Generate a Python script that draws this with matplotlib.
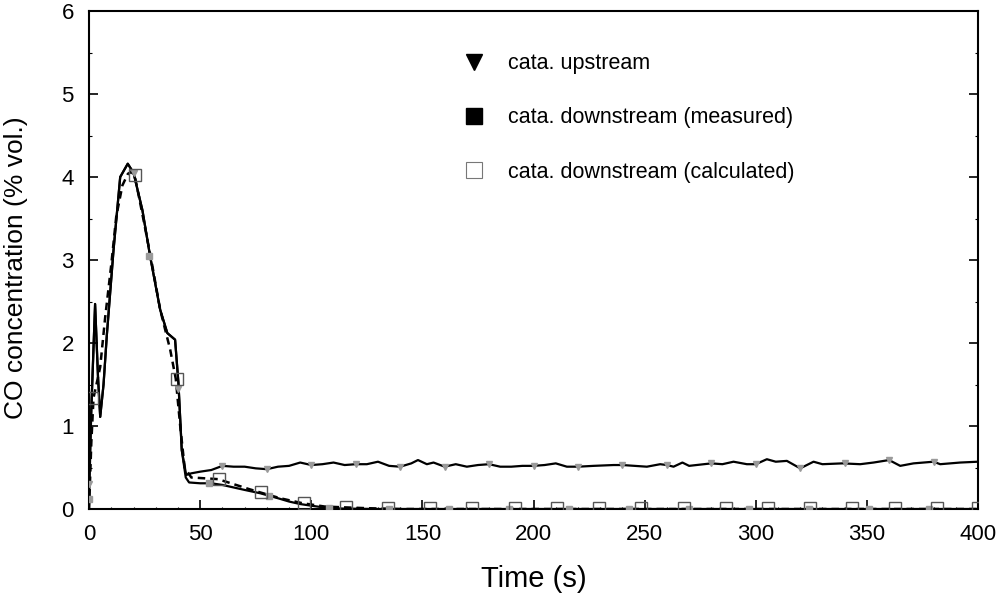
import matplotlib
matplotlib.use("Agg")
import matplotlib.pyplot as plt
from matplotlib.lines import Line2D
from matplotlib.ticker import MultipleLocator

plt.rcParams['font.family'] = ['Liberation Sans', 'DejaVu Sans']

# cata. upstream (solid line)
up_t = [0, 1, 2.7, 4, 5, 6.5, 8, 11, 14, 17.4, 20, 24, 27.5, 32, 35.2, 38.7, 40.2, 41.7, 43.7,
        46, 50, 55, 60, 65, 70, 75, 80, 85, 90, 95, 100, 105, 110, 115, 120, 125, 130, 135,
        140, 145, 148, 152, 155, 160, 165, 170, 175, 180, 185, 190, 195, 200, 205, 210, 215,
        220, 227, 236, 240, 251, 257, 260, 263, 267, 270, 280, 285, 290, 296, 300, 305, 309,
        314, 320, 326, 330, 339, 347, 353, 360, 365, 371, 380, 383, 392, 400]
up_y = [0.30, 1.2, 2.47, 1.6, 1.11, 1.5, 2.1, 3.12, 4.0, 4.16, 4.05, 3.6, 3.04, 2.4, 2.12, 2.04, 1.52, 0.71, 0.41,
        0.43, 0.45, 0.47, 0.52, 0.51, 0.51, 0.49, 0.48, 0.51, 0.52, 0.56, 0.53, 0.54, 0.56, 0.53, 0.54, 0.54, 0.57, 0.52,
        0.51, 0.55, 0.59, 0.54, 0.56, 0.51, 0.54, 0.51, 0.53, 0.54, 0.51, 0.51, 0.52, 0.52, 0.53, 0.55, 0.51,
        0.51, 0.52, 0.53, 0.53, 0.51, 0.54, 0.53, 0.51, 0.56, 0.52, 0.55, 0.54, 0.57, 0.54, 0.54, 0.60, 0.57,
        0.58, 0.49, 0.57, 0.54, 0.55, 0.54, 0.56, 0.59, 0.52, 0.55, 0.57, 0.54, 0.56, 0.57]
up_mark_t = [0, 20, 40, 60, 80, 100, 120, 140, 160, 180, 200, 220, 240, 260, 280, 300, 320, 340, 360, 380]
up_mark_y = [0.30, 4.05, 1.45, 0.52, 0.48, 0.53, 0.54, 0.51, 0.51, 0.54, 0.52, 0.51, 0.53, 0.53, 0.55, 0.54, 0.49, 0.55, 0.59, 0.57]

# cata. downstream (measured, solid line)
ms_t = [0, 1, 2.7, 4, 5, 6.5, 8, 11, 14, 17.4, 20, 24, 27.5, 32, 35.2, 38.7, 40.2, 41.7, 43.5,
        45, 50, 55, 60, 65, 70, 77, 85, 90, 95, 100, 108, 115, 130, 200, 300, 400]
ms_y = [0.12, 1.2, 2.47, 1.6, 1.11, 1.5, 2.1, 3.12, 4.0, 4.16, 4.05, 3.6, 3.04, 2.4, 2.12, 2.04, 1.52, 0.71, 0.38,
        0.32, 0.31, 0.31, 0.29, 0.26, 0.23, 0.19, 0.13, 0.09, 0.06, 0.04, 0.01, 0.005, 0.0, 0.0, 0.0, 0.0]
ms_mark_t = [0, 27, 54, 81, 108, 135, 162, 189, 216, 243, 270, 297, 324, 351, 378]
ms_mark_y = [0.12, 3.05, 0.31, 0.16, 0.01, 0, 0, 0, 0, 0, 0, 0, 0, 0, 0]

# cata. downstream (calculated, dashed line)
calc_t = [0, 1, 2, 5, 7.2, 10, 12.2, 15, 17.5, 19, 20.5, 24, 28, 32, 36.5, 39, 41, 43, 46,
          52, 58, 65, 72, 77, 86, 96, 106, 115, 125, 140, 200, 300, 400]
calc_y = [0.0, 0.8, 1.34, 1.71, 2.3, 2.95, 3.52, 3.9, 4.04, 4.06, 4.02, 3.55, 3.0, 2.4, 1.92, 1.57, 1.0, 0.5, 0.38,
          0.37, 0.36, 0.30, 0.24, 0.20, 0.13, 0.07, 0.03, 0.02, 0.01, 0.0, 0.0, 0.0, 0.0]
calc_mark_t = [1.5, 20.5, 39.5, 58.5, 77.5, 96.5, 115.5, 134.5, 153.5, 172.5, 191.5, 210.5,
               229.5, 248.5, 267.5, 286.5, 305.5, 324.5, 343.5, 362.5, 381.5, 400]
calc_mark_y = [1.34, 4.02, 1.57, 0.36, 0.20, 0.07, 0.02, 0.01, 0.01, 0.01, 0.01, 0.01,
               0.01, 0.01, 0.01, 0.01, 0.01, 0.01, 0.01, 0.01, 0.01, 0.01]

legend_labels = ["cata. upstream", "cata. downstream (measured)", "cata. downstream (calculated)"]

fig = plt.figure(figsize=(10.01, 5.95), dpi=100)
ax = fig.add_axes([0.089, 0.1445, 0.888, 0.837])

ax.plot(up_t, up_y, color='black', lw=1.6, zorder=3)
ax.plot(ms_t, ms_y, color='black', lw=1.6, zorder=3)
ax.plot(calc_t, calc_y, color='black', lw=1.8, ls=(0, (3, 2)), zorder=3)

ax.plot(up_mark_t, up_mark_y, ls='none', marker='v', ms=5, color='#9a9a9a', zorder=4)
ax.plot(ms_mark_t, ms_mark_y, ls='none', marker='s', ms=5, color='#9a9a9a', zorder=4)
ax.plot(calc_mark_t, calc_mark_y, ls='none', marker='s', ms=8, mfc='none', mec='#555555', mew=1, zorder=5)

ax.set_xlim(0, 400)
ax.set_ylim(0, 6)
ax.xaxis.set_major_locator(MultipleLocator(50))
ax.xaxis.set_minor_locator(MultipleLocator(10))
ax.yaxis.set_major_locator(MultipleLocator(1))
ax.yaxis.set_minor_locator(MultipleLocator(0.5))
ax.tick_params(axis='both', which='major', direction='in', length=6.5, width=1.2,
               labelsize=16, pad=11, right=True, top=False)
ax.tick_params(axis='y', which='minor', direction='in', length=2.5, width=0.8, right=True)
ax.tick_params(axis='x', which='minor', direction='in', length=1.5, width=0.8, top=False)
for sp in ax.spines.values():
    sp.set_linewidth(1.5)

ax.set_xlabel("Time (s)", fontsize=21)
ax.set_ylabel("CO concentration (% vol.)", fontsize=19)
ax.xaxis.set_label_coords(0.5, -0.112)
ax.yaxis.set_label_coords(-0.069, 0.485)

handles = [
    Line2D([], [], ls='none', marker='v', ms=12, color='black'),
    Line2D([], [], ls='none', marker='s', ms=11, color='black'),
    Line2D([], [], ls='none', marker='s', ms=11, mfc='none', mec='#777777', mew=0.8),
]
ax.legend(handles, legend_labels, loc='upper left', bbox_to_anchor=(0.387, 0.954),
          frameon=False, fontsize=15.5, labelspacing=1.54, handletextpad=0.56)

fig.savefig("out.png", dpi=100)
